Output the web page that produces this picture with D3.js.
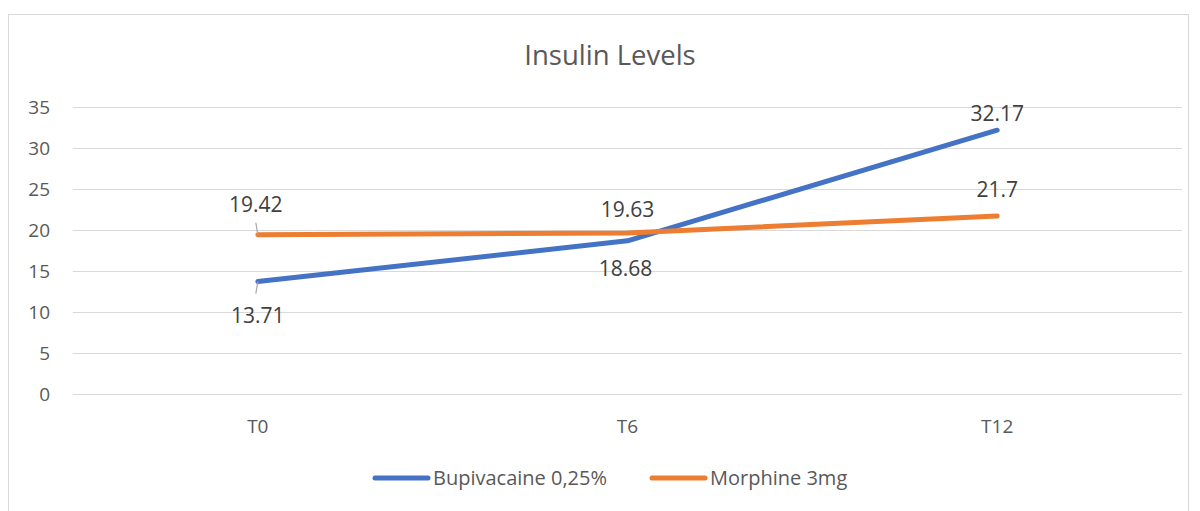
<!DOCTYPE html>
<html>
<head>
<meta charset="utf-8">
<script src="https://cdn.jsdelivr.net/npm/d3@7"></script>
<style>
  body { margin: 0; background: #fff; }
  text { font-family: "Open Sans", "Noto Sans", sans-serif; }
</style>
</head>
<body>
<div id="chart"></div>
<script>
const categories = ["T0", "T6", "T12"];
const bupivacaine = [13.71, 18.68, 32.17];
const morphine = [19.42, 19.63, 21.7];
const yTicks = [0, 5, 10, 15, 20, 25, 30, 35];
const seriesNames = ["Bupivacaine 0,25%", "Morphine 3mg"];
const colors = ["#4472C4", "#ED7D31"];

const W = 1200, H = 511;
const svg = d3.select("#chart").append("svg").attr("width", W).attr("height", H);

// chart border
svg.append("rect")
  .attr("x", 8.5).attr("y", 14.5).attr("width", 1180).attr("height", 520)
  .attr("fill", "none").attr("stroke", "#d9d9d9");

const x = d3.scaleBand().domain(categories).range([73, 1182]);
const y = d3.scaleLinear().domain([0, 35]).range([394, 107]);
const cx = d => x(d) + x.bandwidth() / 2;

svg.append("text")
  .attr("x", 610).attr("y", 65)
  .attr("text-anchor", "middle")
  .attr("font-size", 27.5).attr("fill", "#595959")
  .text("Insulin Levels");

// gridlines
svg.append("g").selectAll("line").data(yTicks).enter().append("line")
  .attr("x1", 73).attr("x2", 1182)
  .attr("y1", d => Math.round(y(d)) + 0.5).attr("y2", d => Math.round(y(d)) + 0.5)
  .attr("stroke", "#d9d9d9").attr("stroke-width", 1);

svg.append("g").selectAll("text").data(yTicks).enter().append("text")
  .attr("x", 50).attr("y", d => y(d) + 7)
  .attr("text-anchor", "end").attr("font-size", 19).attr("fill", "#595959")
  .text(d => d);

svg.append("g").selectAll("text").data(categories).enter().append("text")
  .attr("x", d => cx(d)).attr("y", 433)
  .attr("text-anchor", "middle").attr("font-size", 19).attr("fill", "#595959")
  .text(d => d);

const line = d3.line().x((d, i) => cx(categories[i])).y(d => y(d));

[bupivacaine, morphine].forEach((s, k) => {
  svg.append("path").datum(s)
    .attr("d", line)
    .attr("fill", "none").attr("stroke", colors[k])
    .attr("stroke-width", 5).attr("stroke-linecap", "round").attr("stroke-linejoin", "round");
});

// data label offsets [dx, dy] from each point
const labelPos = [
  [[0, 41], [-2, 35], [0, -9]],    // bupivacaine
  [[-2, -23], [0, -16], [0, -19]]  // morphine
];
[bupivacaine, morphine].forEach((s, k) => {
  s.forEach((v, i) => {
    const px = cx(categories[i]), py = y(v);
    const [dx, dy] = labelPos[k][i];
    svg.append("text")
      .attr("x", px + dx).attr("y", py + dy)
      .attr("text-anchor", "middle").attr("font-size", 21).attr("fill", "#404040")
      .text(v);
  });
});

// leader lines at T0
svg.append("line")
  .attr("x1", cx("T0")).attr("y1", y(morphine[0]))
  .attr("x2", cx("T0") - 2).attr("y2", y(morphine[0]) - 12)
  .attr("stroke", "#a6a6a6").attr("stroke-width", 1.2);
svg.append("line")
  .attr("x1", cx("T0")).attr("y1", y(bupivacaine[0]))
  .attr("x2", cx("T0") - 2).attr("y2", y(bupivacaine[0]) + 12)
  .attr("stroke", "#a6a6a6").attr("stroke-width", 1.2);

// legend
const legendX = [375, 652];
seriesNames.forEach((n, k) => {
  svg.append("line")
    .attr("x1", legendX[k]).attr("x2", legendX[k] + 53)
    .attr("y1", 478).attr("y2", 478)
    .attr("stroke", colors[k]).attr("stroke-width", 5).attr("stroke-linecap", "round");
  svg.append("text")
    .attr("x", legendX[k] + 58).attr("y", 485)
    .attr("font-size", 20).attr("fill", "#595959")
    .text(n);
});
</script>
</body>
</html>
